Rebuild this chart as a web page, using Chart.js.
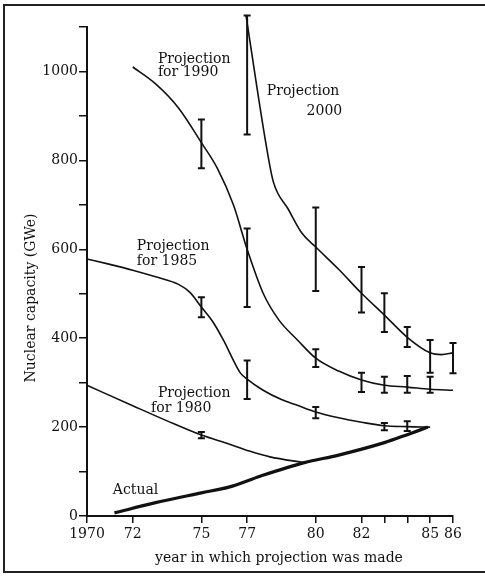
<!DOCTYPE html>
<html>
<head>
<meta charset="utf-8">
<script src="https://cdn.jsdelivr.net/npm/chart.js@4/dist/chart.umd.min.js"></script>
<style>
    html, body { margin: 0; padding: 0; background: #fff; }
    #wrap { width: 485px; height: 576px; position: relative; }
</style>
</head>
<body>
<div id="wrap"><canvas id="nukleer"></canvas></div>
<script>
// values
const xTickValues = [1970, 1972, 1975, 1977, 1980, 1982, 1983, 1984, 1985, 1986];
const xTickLabels = ['1970', '72', '75', '77', '80', '82', '', '', '85', '86'];
const yTickLabeled = [0, 200, 400, 600, 800, 1000];

const p1990Years = [1972, 1973, 1974, 1975, 1975.7, 1976.4, 1977, 1977.7, 1978.4, 1979.2, 1980, 1981, 1982, 1983, 1984, 1985, 1986];
const p1990Vals = [1010, 972, 918, 840, 782, 700, 600, 501, 440, 396, 355, 326, 306, 294, 290, 285, 283];

const p2000Years = [1976.95, 1977.85, 1978.15, 1978.8, 1979.4, 1980, 1981, 1982, 1983, 1984, 1985, 1985.5, 1986];
const p2000Vals = [1126, 829, 751, 690, 636, 605, 555, 501, 452, 402, 367, 363, 367];

const p1985Years = [1970, 1971, 1972, 1973, 1974, 1974.5, 1975, 1975.5, 1976, 1976.4, 1976.7, 1977, 1977.7, 1978.5, 1979.2, 1980, 1981, 1982, 1983, 1984, 1985];
const p1985Vals = [578, 566, 553, 538, 521, 503, 470, 437, 392, 350, 322, 308, 283, 262, 249, 234, 221, 211, 203, 201, 200];

const p1980Years = [1970, 1972, 1973.5, 1975, 1976.2, 1977.1, 1978, 1979.5];
const p1980Vals = [294, 248, 214, 182, 162, 146, 133, 120];

const actualYears = [1971.2, 1973, 1975, 1976.2, 1977.6, 1979.5, 1981, 1983, 1984, 1984.9];
const actualVals = [7, 30, 52, 65, 90, 120, 137, 165, 183, 200];

// error bars (year, low, high)
const err1990Years = [1975, 1977, 1980, 1982, 1983, 1984, 1985];
const err1990Low = [782, 470, 335, 279, 277, 277, 277];
const err1990High = [892, 647, 375, 322, 313, 315, 313];

const err2000Years = [1977, 1980, 1982, 1983, 1984, 1985, 1986];
const err2000Low = [858, 506, 458, 414, 380, 322, 321];
const err2000High = [1126, 694, 560, 501, 425, 396, 389];

const err1985Years = [1975, 1977, 1980, 1983, 1984];
const err1985Low = [447, 263, 220, 193, 191];
const err1985High = [492, 350, 245, 209, 213];

const err1980Years = [1975];
const err1980Low = [175];
const err1980High = [189];

// curve labels, placed in data units
const notes = [
    ['Projection', 1973.1, 1020], ['for 1990', 1973.1, 989],
    ['Projection', 1977.86, 946], ['2000', 1979.6, 901],
    ['Projection', 1972.18, 598], ['for 1985', 1972.18, 564],
    ['Projection', 1973.1, 267], ['for 1980', 1972.8, 234],
    ['Actual', 1971.13, 49]
];

const serif = 'DejaVu Serif';

function pts(xs, ys) {
    return xs.map(function (x, i) { return { x: x, y: ys[i] }; });
}

function curve(label, xs, ys, width, err) {
    return {
        label: label,
        data: pts(xs, ys),
        borderColor: '#111',
        borderWidth: width,
        pointRadius: 0,
        fill: false,
        cubicInterpolationMode: 'monotone',
        clip: false,
        errorBars: err
    };
}

const figurePlugin = {
    id: 'figure',
    afterDatasetsDraw: function (chart) {
        const ctx = chart.ctx;
        const xs = chart.scales.x;
        const ys = chart.scales.y;
        ctx.save();
        // error bars
        ctx.strokeStyle = '#111';
        ctx.lineWidth = 2;
        chart.data.datasets.forEach(function (ds) {
            const e = ds.errorBars;
            if (!e) return;
            e.years.forEach(function (yr, i) {
                const px = xs.getPixelForValue(yr);
                const top = ys.getPixelForValue(e.high[i]);
                const bot = ys.getPixelForValue(e.low[i]);
                ctx.beginPath();
                ctx.moveTo(px, top); ctx.lineTo(px, bot);
                ctx.moveTo(px - 3.5, top); ctx.lineTo(px + 3.5, top);
                ctx.moveTo(px - 3.5, bot); ctx.lineTo(px + 3.5, bot);
                ctx.stroke();
            });
        });
        // labels on the curves
        ctx.fillStyle = '#111';
        ctx.font = '14px "' + serif + '"';
        ctx.textAlign = 'left';
        ctx.textBaseline = 'alphabetic';
        notes.forEach(function (n) {
            ctx.fillText(n[0], xs.getPixelForValue(n[1]), ys.getPixelForValue(n[2]));
        });
        // axis titles
        ctx.textAlign = 'center';
        ctx.textBaseline = 'middle';
        ctx.fillText('year in which projection was made', 279, 558);
        ctx.translate(31, 298);
        ctx.rotate(-Math.PI / 2);
        ctx.fillText('Nuclear capacity (GWe)', 0, 0);
        ctx.restore();

        // scan frame
        ctx.save();
        ctx.strokeStyle = '#222';
        ctx.lineWidth = 2;
        ctx.beginPath();
        ctx.moveTo(485, 5); ctx.lineTo(4, 5); ctx.lineTo(4, 572); ctx.lineTo(485, 572);
        ctx.stroke();
        ctx.restore();
    }
};

const config = {
    type: 'line',
    data: {
        datasets: [
            curve('Projection for 1990', p1990Years, p1990Vals, 1.6, { years: err1990Years, low: err1990Low, high: err1990High }),
            curve('Projection 2000', p2000Years, p2000Vals, 1.6, { years: err2000Years, low: err2000Low, high: err2000High }),
            curve('Projection for 1985', p1985Years, p1985Vals, 1.6, { years: err1985Years, low: err1985Low, high: err1985High }),
            curve('Projection for 1980', p1980Years, p1980Vals, 1.6, { years: err1980Years, low: err1980Low, high: err1980High }),
            curve('Actual', actualYears, actualVals, 3.2, null)
        ]
    },
    options: {
        responsive: true,
        maintainAspectRatio: false,
        animation: false,
        layout: {
            padding: { top: 27, right: 32, left: 4, bottom: 0 }
        },
        plugins: {
            legend: { display: false },
            tooltip: { enabled: false }
        },
        scales: {
            x: {
                type: 'linear',
                min: 1970,
                max: 1986,
                afterBuildTicks: function (scale) {
                    scale.ticks = xTickValues.map(function (v) { return { value: v }; });
                },
                afterFit: function (scale) { scale.height = 60; },
                ticks: {
                    autoSkip: false,
                    maxRotation: 0,
                    padding: 3,
                    color: '#111',
                    font: { family: serif, size: 14 },
                    callback: function (value) {
                        const i = xTickValues.indexOf(value);
                        return i >= 0 ? xTickLabels[i] : '';
                    }
                },
                grid: { drawOnChartArea: false, drawTicks: true, tickLength: 7, color: '#111', lineWidth: 1.5 },
                border: { color: '#111', width: 2 }
            },
            y: {
                min: 0,
                max: 1100,
                afterFit: function (scale) { scale.width = 83; },
                ticks: {
                    stepSize: 100,
                    padding: 1,
                    color: '#111',
                    font: { family: serif, size: 14 },
                    callback: function (value) {
                        return yTickLabeled.indexOf(value) >= 0 ? String(value) : '';
                    }
                },
                grid: { drawOnChartArea: false, drawTicks: true, tickLength: 8, color: '#111', lineWidth: 1.5 },
                border: { color: '#111', width: 2 }
            }
        }
    },
    plugins: [figurePlugin]
};

const context = document.getElementById('nukleer').getContext('2d');
const chart = new Chart(context, config);
</script>
</body>
</html>
